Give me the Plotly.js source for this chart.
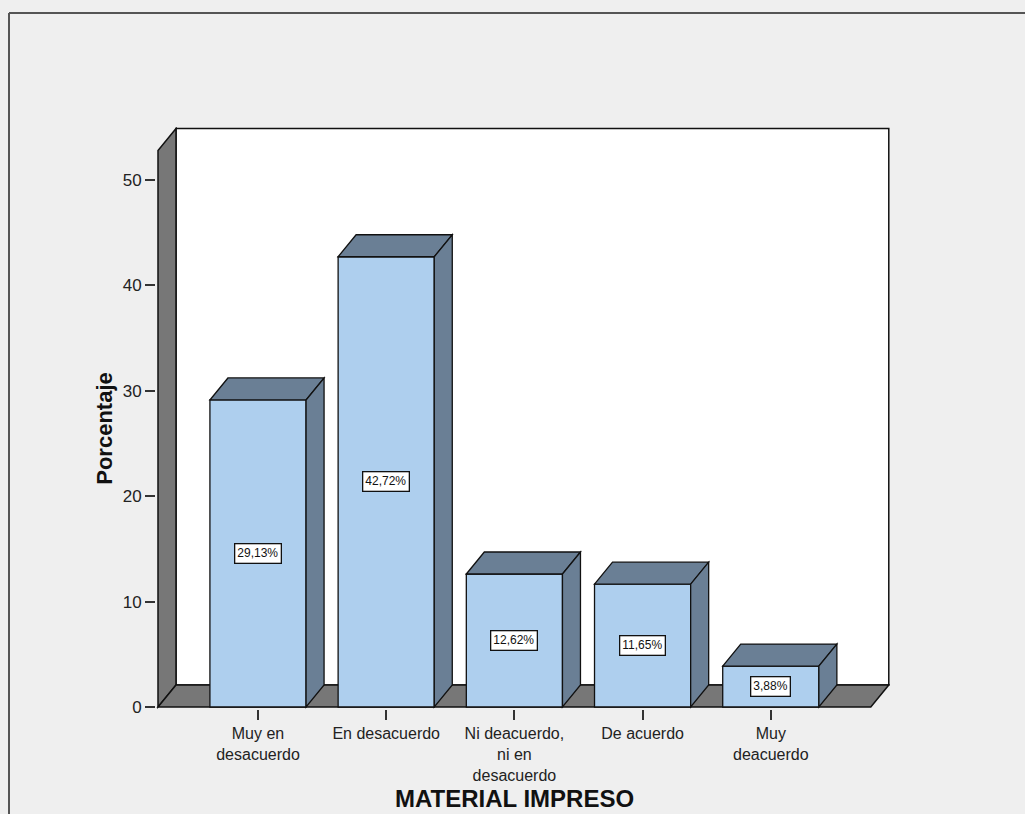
<!DOCTYPE html>
<html>
<head>
<meta charset="utf-8">
<script src="https://cdn.plot.ly/plotly-3.0.1.min.js"></script>
<style>
  html, body { margin: 0; padding: 0; background: #efefef; }
  #chart { width: 1025px; height: 814px; }
</style>
</head>
<body>
<div id="chart"></div>
<script>
// Survey answers for "MATERIAL IMPRESO" (percent of respondents)
const categories = [
  "Muy en<br>desacuerdo",
  "En desacuerdo",
  "Ni deacuerdo,<br>ni en<br>desacuerdo",
  "De acuerdo",
  "Muy<br>deacuerdo"
];
const percentages = [29.13, 42.72, 12.62, 11.65, 3.88];
const yTickValues = [0, 10, 20, 30, 40, 50];

// ---- geometry of the pseudo-3D box (pixels) ----
const W = 1025, H = 814;
const M = { l: 156, r: 135, t: 127, b: 105 };
const plotW = W - M.l - M.r, plotH = H - M.t - M.b;
const pxPerX = 128.2;          // pixels per category step
const pxPerY = 10.54;          // pixels per percentage point
const frontLeftPx = 158;       // left edge of the front plane
const zeroPx = 707;            // pixel row of value 0 on the front plane
const depthPx = { dx: 18, dy: 22 };

const xMin = -0.78 - (frontLeftPx - M.l) / pxPerX;
const xMax = xMin + plotW / pxPerX;
const yMin = -((M.t + plotH) - zeroPx) / pxPerY;
const yMax = yMin + plotH / pxPerY;

const XF0 = -0.78, XF1 = 4.78, YF1 = 52.8;   // front plane extent (data units)
const dX = depthPx.dx / pxPerX, dY = depthPx.dy / pxPerY;
const barW = 0.75;

const wallGray = "#777777";
const barFront = "#aecfee";
const barDepth = "#6a7f95";
const edge = "#111111";

const xs = categories.map((_, i) => i);

function poly(pts) {
  return "M" + pts.map(p => p[0] + "," + p[1]).join(" L") + " Z";
}

const shapes = [];
// back wall
shapes.push({
  type: "rect", xref: "x", yref: "y", layer: "below",
  x0: XF0 + dX, x1: XF1 + dX, y0: dY, y1: YF1 + dY,
  fillcolor: "#ffffff", line: { color: edge, width: 1.5 }
});
// left wall
shapes.push({
  type: "path", xref: "x", yref: "y", layer: "below",
  path: poly([[XF0, 0], [XF0, YF1], [XF0 + dX, YF1 + dY], [XF0 + dX, dY]]),
  fillcolor: wallGray, line: { color: edge, width: 1.5 }
});
// floor
shapes.push({
  type: "path", xref: "x", yref: "y", layer: "below",
  path: poly([[XF0, 0], [XF1, 0], [XF1 + dX, dY], [XF0 + dX, dY]]),
  fillcolor: wallGray, line: { color: edge, width: 1.5 }
});

// top and side faces of each bar
percentages.forEach((v, i) => {
  const x0 = xs[i] - barW / 2, x1 = xs[i] + barW / 2;
  shapes.push({
    type: "path", xref: "x", yref: "y", layer: "above",
    path: poly([[x0, v], [x0 + dX, v + dY], [x1 + dX, v + dY], [x1, v]]),
    fillcolor: barDepth, line: { color: edge, width: 1.3 }
  });
  shapes.push({
    type: "path", xref: "x", yref: "y", layer: "above",
    path: poly([[x1, 0], [x1, v], [x1 + dX, v + dY], [x1 + dX, dY]]),
    fillcolor: barDepth, line: { color: edge, width: 1.3 }
  });
});

// outer frame of the chart area
const toPaperX = px => (px - M.l) / plotW;
const toPaperY = py => (M.t + plotH - py) / plotH;
shapes.push({
  type: "line", xref: "paper", yref: "paper",
  x0: toPaperX(9), x1: toPaperX(9), y0: toPaperY(H + 2), y1: toPaperY(13),
  line: { color: "#555555", width: 2 }
});
shapes.push({
  type: "line", xref: "paper", yref: "paper",
  x0: toPaperX(9), x1: toPaperX(W + 2), y0: toPaperY(13), y1: toPaperY(13),
  line: { color: "#555555", width: 2 }
});

const font = "Liberation Sans, Arial, sans-serif";

// value boxes in the middle of each bar
const annotations = percentages.map((v, i) => ({
  x: xs[i], y: v / 2, xref: "x", yref: "y",
  xanchor: "center", yanchor: "middle",
  text: v.toFixed(2).replace(".", ",") + "%",
  showarrow: false,
  font: { family: font, size: 12, color: "#111111" },
  bgcolor: "#ffffff", bordercolor: "#111111", borderwidth: 1.3, borderpad: 2
}));

// axis titles centred on the front plane
annotations.push({
  xref: "x", yref: "paper",
  x: (XF0 + XF1) / 2, y: toPaperY(799),
  xanchor: "center", yanchor: "middle",
  text: "<b>MATERIAL IMPRESO</b>", showarrow: false,
  font: { family: font, size: 24, color: "#111111" }
});
annotations.push({
  xref: "paper", yref: "y",
  x: toPaperX(105), y: YF1 / 2,
  xanchor: "center", yanchor: "middle",
  text: "<b>Porcentaje</b>", textangle: -90, showarrow: false,
  font: { family: font, size: 22, color: "#111111" }
});

const trace = {
  type: "bar",
  x: xs,
  y: percentages,
  width: barW,
  marker: { color: barFront, line: { color: edge, width: 1.3 } },
  hoverinfo: "skip"
};

const layout = {
  width: W, height: H,
  margin: M,
  paper_bgcolor: "#efefef",
  plot_bgcolor: "rgba(0,0,0,0)",
  showlegend: false,
  font: { family: font, size: 17, color: "#222222" },
  xaxis: {
    range: [xMin, xMax], tickmode: "array",
    tickvals: xs, ticktext: categories,
    ticks: "outside", ticklen: 10, tickwidth: 2, tickcolor: "#333333",
    showgrid: false, zeroline: false, showline: false, fixedrange: true,
    tickfont: { family: font, size: 16, color: "#222222" }
  },
  yaxis: {
    range: [yMin, yMax], tickmode: "array", tickvals: yTickValues,
    ticks: "outside", ticklen: 10, tickwidth: 2, tickcolor: "#333333",
    showgrid: false, zeroline: false, showline: false, fixedrange: true,
    tickfont: { family: font, size: 17, color: "#222222" }
  },
  shapes: shapes,
  annotations: annotations
};

Plotly.newPlot("chart", [trace], layout, { displayModeBar: false, staticPlot: true });
</script>
</body>
</html>
